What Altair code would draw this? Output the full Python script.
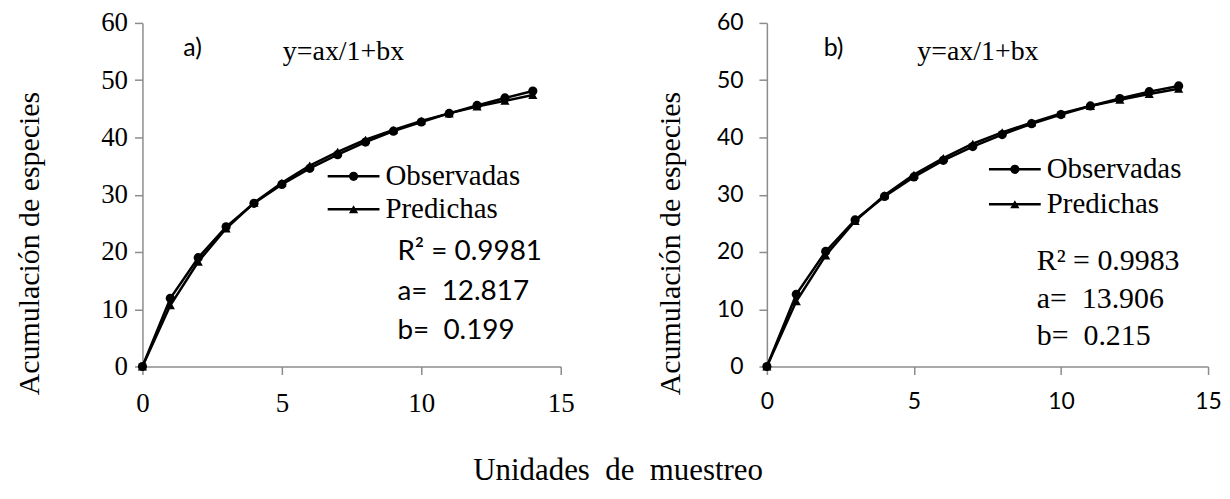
import altair as alt
import pandas as pd

# ---------------- data ----------------
units = list(range(15))
series_names = ["Observadas", "Predichas"]

obs_a = [0, 11.9, 19.0, 24.4, 28.5, 31.8, 34.6, 37.0, 39.2, 41.1, 42.7, 44.2, 45.6, 46.9, 48.1]
pred_a = [0, 10.7, 18.3, 24.1, 28.6, 32.1, 35.1, 37.5, 39.6, 41.3, 42.9, 44.2, 45.4, 46.4, 47.4]
obs_b = [0, 12.6, 20.1, 25.6, 29.7, 33.1, 36.0, 38.4, 40.5, 42.4, 44.0, 45.5, 46.8, 48.0, 49.0]
pred_b = [0, 11.4, 19.4, 25.4, 29.9, 33.5, 36.4, 38.9, 40.9, 42.6, 44.2, 45.5, 46.6, 47.6, 48.5]

x_ticks = [0, 5, 10, 15]
y_ticks = [0, 10, 20, 30, 40, 50, 60]

panel_labels = ["a)", "b)"]
equation = "y=ax/1+bx"
stats_a = ["R\u00b2 = 0.9981", "a= \u00a012.817", "b= \u00a00.199"]
stats_b = ["R\u00b2 = 0.9983", "a= \u00a013.906", "b= \u00a00.215"]

y_title = "Acumulación de especies"
x_title = "Unidades \u00a0de \u00a0muestreo"

SERIF = "Liberation Serif"
SANS = "Lato"
AXIS_GREY = "#8c8c8c"
H = 345


def make_panel(obs, pred, width, tick_font, tick_size, label, stats, stats_font,
               stats_size, stats_x, stats_y, leg_x, leg_y, lab_x, eq_x, title_x,
               label_pad_y):
    rows = []
    for name, vals in zip(series_names, [obs, pred]):
        for u, v in zip(units, vals):
            rows.append({"x": u, "y": v, "series": name})
    df = pd.DataFrame(rows)

    xax = alt.Axis(values=x_ticks, title=None, grid=False, labelFont=tick_font,
                   labelFontSize=tick_size, labelColor="black", labelPadding=16,
                   domainColor=AXIS_GREY, tickColor=AXIS_GREY, domainWidth=1.5,
                   tickWidth=1.5, tickSize=8, labelFlush=False)
    yax = alt.Axis(values=y_ticks, title=y_title, grid=False, labelFont=tick_font,
                   labelFontSize=tick_size, labelColor="black", labelPadding=label_pad_y,
                   domainColor=AXIS_GREY, tickColor=AXIS_GREY, domainWidth=1.5,
                   tickWidth=1.5, tickSize=8, titleFont=SERIF, titleFontSize=30,
                   titleFontWeight="normal", titleColor="black", titleAngle=-90,
                   titleX=title_x, titleY=221, titleBaseline="alphabetic",
                   titleAlign="center", labelFlush=False)

    base = alt.Chart(df).encode(
        x=alt.X("x:Q", scale=alt.Scale(domain=[0, 15], nice=False, zero=False), axis=xax),
        y=alt.Y("y:Q", scale=alt.Scale(domain=[0, 60], nice=False), axis=yax),
    )
    lines = base.mark_line(color="black", strokeWidth=2.5).encode(detail="series:N")
    pts = base.mark_point(filled=True, color="black", opacity=1, size=85).encode(
        shape=alt.Shape("series:N",
                        scale=alt.Scale(domain=series_names, range=["circle", "triangle-up"]),
                        legend=None)
    )

    layers = [lines, pts]

    shapes = ["circle", "triangle-up"]
    for i, name in enumerate(series_names):
        ldf = pd.DataFrame({"label": [name]})
        py = leg_y[i]
        layers.append(alt.Chart(ldf).mark_rule(color="black", strokeWidth=2.5).encode(
            x=alt.value(leg_x), x2=alt.value(leg_x + 52), y=alt.value(py)))
        layers.append(alt.Chart(ldf).mark_point(filled=True, color="black", opacity=1,
                                                size=85, shape=shapes[i]).encode(
            x=alt.value(leg_x + 26), y=alt.value(py)))
        layers.append(alt.Chart(ldf).mark_text(font=SERIF, fontSize=29, align="left",
                                               baseline="middle", color="black").encode(
            text="label:N", x=alt.value(leg_x + 58), y=alt.value(py)))

    for i, s in enumerate(stats):
        sdf = pd.DataFrame({"t": [s]})
        layers.append(alt.Chart(sdf).mark_text(font=stats_font, fontSize=stats_size,
                                               align="left", baseline="middle",
                                               color="black").encode(
            text="t:N", x=alt.value(stats_x), y=alt.value(stats_y[i])))

    layers.append(alt.Chart(pd.DataFrame({"t": [label]})).mark_text(
        font=SANS, fontSize=25, align="left", baseline="middle", color="black").encode(
        text="t:N", x=alt.value(lab_x), y=alt.value(25)))
    layers.append(alt.Chart(pd.DataFrame({"t": [equation]})).mark_text(
        font=SERIF, fontSize=28, align="left", baseline="middle", color="black").encode(
        text="t:N", x=alt.value(eq_x), y=alt.value(29)))

    return alt.layer(*layers).properties(width=width, height=H)


left = make_panel(obs_a, pred_a, 420, SERIF, 27, panel_labels[0], stats_a, SANS, 28,
                  256, [230, 270, 309], 186, [154, 187], 41, 141, -104, 7)
right = make_panel(obs_b, pred_b, 443, SANS, 23, panel_labels[1], stats_b, SERIF, 30,
                   271, [239, 277, 314], 223, [147, 182], 57, 151, -88, 16)

chart = alt.hconcat(left, right, spacing=80).properties(
    padding={"left": 6, "top": 0, "right": 0, "bottom": 0},
    title=alt.TitleParams(x_title, orient="bottom", anchor="middle", font=SERIF,
                          fontSize=31, fontWeight="normal", color="black", offset=40),
).configure_view(stroke=None)

chart.save("out.html", embed_options={"renderer": "svg", "actions": False})
